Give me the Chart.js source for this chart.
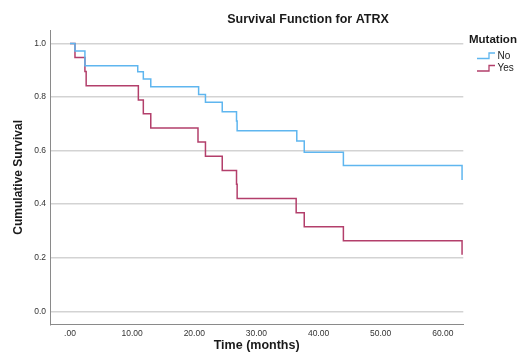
<!DOCTYPE html>
<html>
<head>
<meta charset="utf-8">
<title>Survival Function for ATRX</title>
<script src="https://cdn.jsdelivr.net/npm/chart.js@4/dist/chart.umd.min.js"></script>
<style>
  html, body { margin: 0; padding: 0; background: #ffffff; }
  #wrap { width: 523px; height: 363px; }
</style>
</head>
<body>
<div id="wrap"><canvas id="km" width="523" height="363"></canvas></div>
<script>
// Kaplan-Meier estimates by ATRX mutation status (time in months)
const noTimes     = [0, 0.8, 2.4, 10.9, 11.8, 13.0, 20.7, 21.8, 24.5, 26.8, 26.9, 36.5, 37.7, 44.0, 63.1];
const noSurvival  = [1.0, 0.972, 0.917, 0.894, 0.867, 0.838, 0.809, 0.780, 0.745, 0.710, 0.674, 0.636, 0.594, 0.544, 0.490];
const yesTimes    = [0, 0.8, 2.4, 2.6, 11.0, 11.8, 13.0, 20.6, 21.8, 24.5, 26.8, 26.9, 36.4, 37.7, 44.0, 63.1];
const yesSurvival = [1.0, 0.947, 0.895, 0.842, 0.789, 0.737, 0.684, 0.632, 0.579, 0.526, 0.474, 0.421, 0.368, 0.316, 0.263, 0.211];

const groupNames  = ['No', 'Yes'];
const groupColors = ['#5fb6ef', '#b33f6b'];

const xTickValues = [0, 10, 20, 30, 40, 50, 60];
const xTickLabels = ['.00', '10.00', '20.00', '30.00', '40.00', '50.00', '60.00'];
const yTickValues = [0, 0.2, 0.4, 0.6, 0.8, 1.0];
const yTickLabels = ['0.0', '0.2', '0.4', '0.6', '0.8', '1.0'];

const FONT = "'Liberation Sans', Arial, sans-serif";

function toPoints(times, values) {
  return times.map((t, i) => ({ x: t, y: values[i] }));
}

// Chart title and group legend drawn on top of the plot
const decorations = {
  id: 'decorations',
  afterDraw(chart) {
    const ctx = chart.ctx;
    ctx.save();
    ctx.fillStyle = '#1a1a1a';
    ctx.textBaseline = 'middle';

    ctx.font = 'bold 12.5px ' + FONT;
    ctx.textAlign = 'center';
    ctx.fillText('Survival Function for ATRX', 308, 20);

    ctx.textAlign = 'left';
    ctx.font = 'bold 11.5px ' + FONT;
    ctx.fillText('Mutation', 469, 39.5);

    ctx.font = '10px ' + FONT;
    const rows = [56, 68.5];
    groupNames.forEach((name, i) => {
      const y = rows[i];
      ctx.strokeStyle = groupColors[i];
      ctx.lineWidth = 1.3;
      ctx.beginPath();
      ctx.moveTo(477, y + 2.5);
      ctx.lineTo(489, y + 2.5);
      ctx.lineTo(489, y - 3);
      ctx.lineTo(495, y - 3);
      ctx.stroke();
      ctx.fillStyle = '#1a1a1a';
      ctx.fillText(name, 497.5, y);
    });
    ctx.restore();
  }
};

new Chart(document.getElementById('km'), {
  type: 'line',
  data: {
    datasets: [
      {
        label: groupNames[0],
        data: toPoints(noTimes, noSurvival),
        borderColor: groupColors[0],
        borderWidth: 1.5,
        pointRadius: 0,
        stepped: 'before',
        fill: false
      },
      {
        label: groupNames[1],
        data: toPoints(yesTimes, yesSurvival),
        borderColor: groupColors[1],
        borderWidth: 1.5,
        pointRadius: 0,
        stepped: 'before',
        fill: false
      }
    ]
  },
  options: {
    responsive: false,
    animation: false,
    devicePixelRatio: 1,
    layout: { padding: { top: 30, right: 59.7, left: 0, bottom: 0 } },
    plugins: {
      legend: { display: false },
      title: { display: false },
      tooltip: { enabled: false }
    },
    scales: {
      x: {
        type: 'linear',
        min: -3.22,
        max: 63.3,
        afterFit(scale) { scale.height = 38.3; },
        afterBuildTicks(scale) { scale.ticks = xTickValues.map(v => ({ value: v })); },
        grid: { display: false, drawTicks: false },
        border: { display: true, color: '#8a8a8a', width: 1 },
        ticks: {
          padding: 4,
          maxRotation: 0,
          autoSkip: false,
          color: '#333333',
          font: { family: FONT, size: 8.5 },
          callback(value) {
            const i = xTickValues.indexOf(value);
            return i >= 0 ? xTickLabels[i] : '';
          }
        },
        title: {
          display: true,
          text: 'Time (months)',
          color: '#1a1a1a',
          font: { family: FONT, size: 12.5, weight: 'bold' },
          padding: { top: 0, bottom: 10 }
        }
      },
      y: {
        type: 'linear',
        min: -0.05,
        max: 1.05,
        afterFit(scale) { scale.width = 50; },
        afterBuildTicks(scale) { scale.ticks = yTickValues.map(v => ({ value: v })); },
        grid: { display: true, drawTicks: false, color: '#d3d3d3', lineWidth: 1.5 },
        border: { display: true, color: '#8a8a8a', width: 1 },
        ticks: {
          padding: 4,
          autoSkip: false,
          color: '#333333',
          font: { family: FONT, size: 8.5 },
          callback(value) {
            const i = yTickValues.findIndex(v => Math.abs(v - value) < 1e-9);
            return i >= 0 ? yTickLabels[i] : '';
          }
        },
        title: {
          display: true,
          text: 'Cumulative Survival',
          color: '#1a1a1a',
          font: { family: FONT, size: 12, weight: 'bold' },
          padding: { top: 11, bottom: 0 }
        }
      }
    }
  },
  plugins: [decorations]
});
</script>
</body>
</html>
